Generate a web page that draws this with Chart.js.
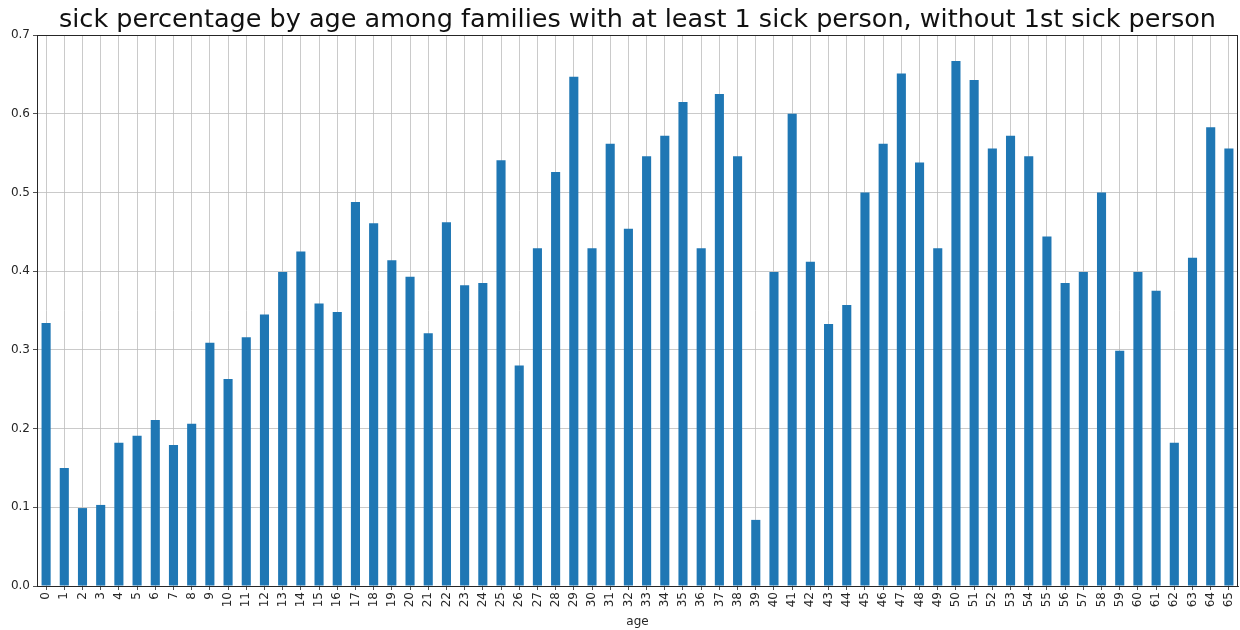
<!DOCTYPE html>
<html>
<head>
<meta charset="utf-8">
<title>sick percentage by age</title>
<script src="https://cdn.jsdelivr.net/npm/chart.js@4/dist/chart.umd.min.js"></script>
<style>
  html, body { margin: 0; padding: 0; background: #fff; }
  #chart-wrap { width: 1240px; height: 630px; }
</style>
</head>
<body>
<div id="chart-wrap"><canvas id="sick-chart" width="1240" height="630"></canvas></div>
<script>
// 資料：年齡 0-65
const ages = Array.from({ length: 66 }, (_, i) => String(i));
const sickShare = [
  0.334, 0.150, 0.099, 0.103, 0.182, 0.191, 0.211, 0.179, 0.206, 0.309,
  0.263, 0.316, 0.345, 0.399, 0.425, 0.359, 0.348, 0.488, 0.461, 0.414,
  0.393, 0.321, 0.462, 0.382, 0.385, 0.541, 0.280, 0.429, 0.526, 0.647,
  0.429, 0.562, 0.454, 0.546, 0.572, 0.615, 0.429, 0.625, 0.546, 0.084,
  0.399, 0.600, 0.412, 0.333, 0.357, 0.500, 0.562, 0.651, 0.538, 0.429,
  0.667, 0.643, 0.556, 0.572, 0.546, 0.444, 0.385, 0.399, 0.500, 0.299,
  0.399, 0.375, 0.182, 0.417, 0.583, 0.556
];
const yTicks = [0, 0.1, 0.2, 0.3, 0.4, 0.5, 0.6, 0.7];

const FONT = "'DejaVu Sans', sans-serif";
const GRID = '#bdbdbd';
const INK = '#262626';

// 圖框：補上上方與右方的邊線
const frameBox = {
  id: 'frameBox',
  afterDraw(chart) {
    const { ctx, chartArea: a } = chart;
    ctx.save();
    ctx.strokeStyle = INK;
    ctx.lineWidth = 1;
    ctx.strokeRect(Math.round(a.left) + 0.5, Math.round(a.top) + 0.5,
      Math.round(a.right - a.left) - 1, Math.round(a.bottom - a.top));
    ctx.restore();
  }
};

new Chart(document.getElementById('sick-chart'), {
  type: 'bar',
  data: {
    labels: ages,
    datasets: [{
      label: 'sick percentage',
      data: sickShare,
      backgroundColor: '#1f77b4',
      borderWidth: 0,
      barPercentage: 0.5,
      categoryPercentage: 1.0
    }]
  },
  options: {
    responsive: false,
    devicePixelRatio: 1,
    animation: false,
    layout: { padding: { left: 0, right: 2, top: 0, bottom: 0 } },
    plugins: {
      legend: { display: false },
      tooltip: { enabled: false },
      title: {
        display: true,
        fullSize: false,
        text: 'sick percentage by age among families with at least 1 sick person, without 1st sick person',
        color: '#111',
        font: { family: FONT, size: 25.5, weight: 'normal', lineHeight: 1.1 },
        padding: { top: 6, bottom: 1 }
      }
    },
    scales: {
      x: {
        offset: true,
        grid: { offset: false, color: GRID, lineWidth: 0.8, tickColor: INK, tickLength: 4 },
        border: { color: INK, width: 1 },
        ticks: {
          autoSkip: false,
          maxRotation: 90,
          minRotation: 90,
          padding: 2,
          color: INK,
          font: { family: FONT, size: 12 }
        },
        title: {
          display: true,
          text: 'age',
          color: INK,
          font: { family: FONT, size: 12 },
          padding: { top: 0, bottom: 1 }
        },
        afterFit: s => { s.height = 44; s.paddingLeft = 0; s.paddingRight = 0; }
      },
      y: {
        min: 0,
        max: 0.7,
        grid: { color: GRID, lineWidth: 0.8, tickColor: INK, tickLength: 4 },
        border: { color: INK, width: 1 },
        afterBuildTicks: s => { s.ticks = yTicks.map(v => ({ value: v })); },
        ticks: {
          padding: 3,
          color: INK,
          font: { family: FONT, size: 12 },
          callback: v => Number(v).toFixed(1)
        },
        afterFit: s => { s.width = 37; }
      }
    }
  },
  plugins: [frameBox]
});
</script>
</body>
</html>
